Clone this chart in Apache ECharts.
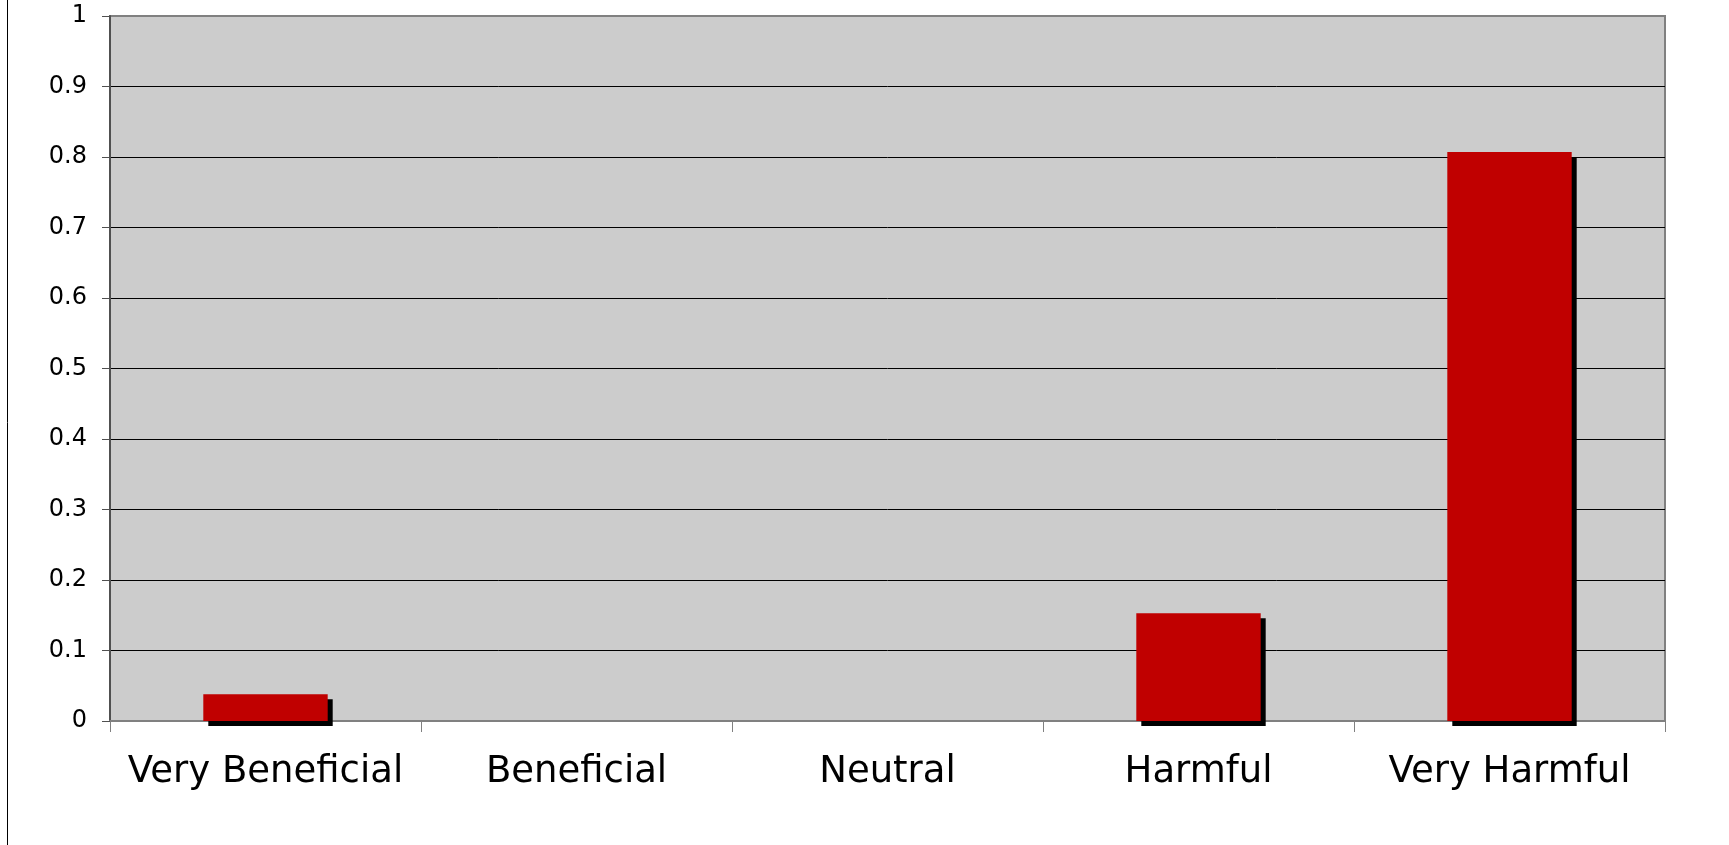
<!DOCTYPE html>
<html>
<head>
<meta charset="utf-8">
<script src="https://cdn.jsdelivr.net/npm/echarts@6/dist/echarts.min.js"></script>
<style>
  html, body { margin: 0; padding: 0; background: #fff; }
  #chart { width: 1729px; height: 845px; }
</style>
</head>
<body>
<div id="chart"></div>
<script>
// data
var categories = ["Very Beneficial", "Beneficial", "Neutral", "Harmful", "Very Harmful"];
var shares = [0.038, 0, 0, 0.153, 0.807];
var yTicks = { min: 0, max: 1, interval: 0.1 };

var chart = echarts.init(document.getElementById("chart"));

// gridlines black, the top one (value 1) grey like the plot border
var gridColors = [];
for (var i = 0; i < 10; i++) gridColors.push("#000");
gridColors.push("#808080");

var option = {
  backgroundColor: "#fff",
  animation: false,
  graphic: [
    {
      type: "line",
      shape: { x1: 7.5, y1: 0, x2: 7.5, y2: 845 },
      style: { stroke: "#000", lineWidth: 1 }
    }
  ],
  grid: {
    left: 110,
    right: 64,
    top: 16,
    bottom: 124,
    show: true,
    backgroundColor: "#cccccc",
    borderColor: "#808080",
    borderWidth: 2
  },
  xAxis: {
    type: "category",
    data: categories,
    axisLine: { lineStyle: { color: "#808080", width: 2 } },
    axisTick: { show: true, length: 11, lineStyle: { color: "#808080" } },
    axisLabel: {
      interval: 0,
      margin: 33,
      color: "#000",
      fontFamily: "DejaVu Sans",
      fontSize: 37
    }
  },
  yAxis: {
    type: "value",
    min: yTicks.min,
    max: yTicks.max,
    interval: yTicks.interval,
    axisLine: { show: true, lineStyle: { color: "#505050", width: 2 } },
    axisTick: { show: true, length: 8, lineStyle: { color: "#505050" } },
    axisLabel: {
      margin: 23,
      color: "#000",
      fontFamily: "DejaVu Sans",
      fontSize: 24,
      formatter: function (v) { return String(+v.toFixed(1)); }
    },
    splitLine: { show: true, lineStyle: { color: gridColors, width: 1 } }
  },
  series: [
    {
      type: "bar",
      data: shares,
      barWidth: "40%",
      itemStyle: {
        color: "#c00000",
        shadowColor: "#000",
        shadowBlur: 0,
        shadowOffsetX: 5,
        shadowOffsetY: 5
      }
    }
  ]
};

chart.setOption(option);
</script>
</body>
</html>
